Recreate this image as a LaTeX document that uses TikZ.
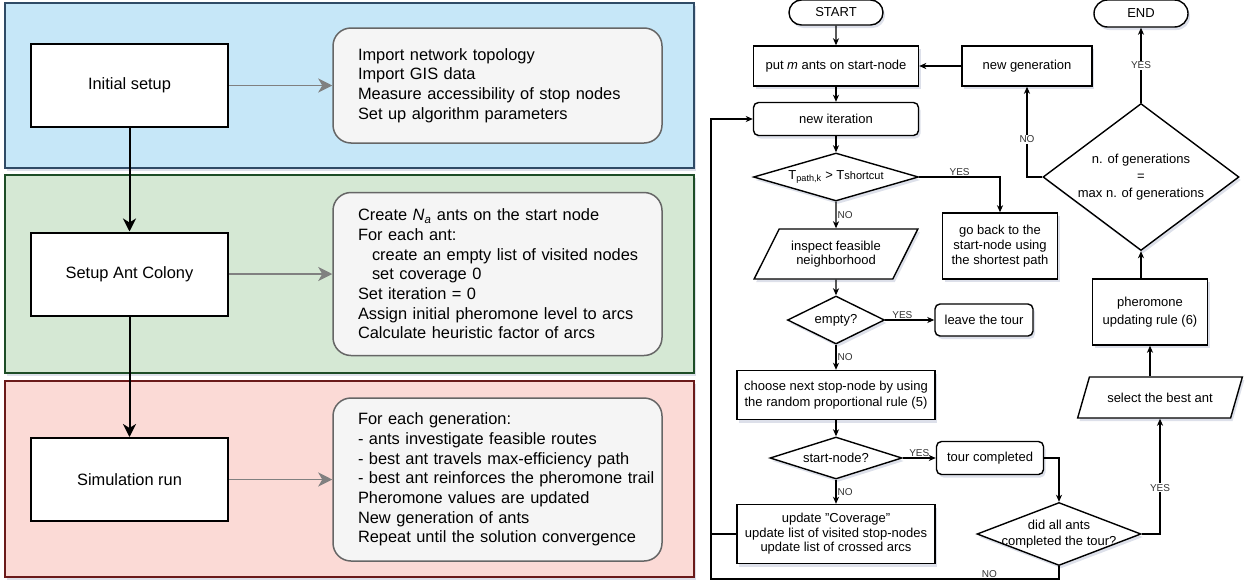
\documentclass[tikz,border=0pt]{standalone}
\usepackage{fontspec}
\setmainfont{Liberation Sans}
\usetikzlibrary{shapes.geometric}
\usetikzlibrary{shapes.misc}
\usetikzlibrary{arrows.meta}
\usetikzlibrary{shadows}
\definecolor{bluefill}{HTML}{C6E7F8}
\definecolor{blueline}{HTML}{2F4B66}
\definecolor{greenfill}{HTML}{D5E8D4}
\definecolor{greenline}{HTML}{1D4D26}
\definecolor{redfill}{HTML}{FBDAD6}
\definecolor{redline}{HTML}{6B1A1A}
\definecolor{notefill}{HTML}{F5F5F5}
\definecolor{noteline}{HTML}{666666}
\definecolor{arrgray}{HTML}{808080}
\definecolor{shadowc}{HTML}{8E9AB8}
\definecolor{lbltext}{HTML}{333333}
\tikzstyle{band}=[line width=1.5pt,drop shadow={shadow xshift=2pt,shadow yshift=-3pt,opacity=0.3,fill=shadowc}]
\tikzstyle{stage}=[draw,fill=white,line width=2pt,minimum width=197pt,minimum height=83pt,font=\fontsize{16.4}{19.7}\selectfont]
\tikzstyle{note}=[draw=noteline,fill=notefill,line width=1.5pt,rounded corners=18pt,minimum width=329pt,text width=279pt,inner xsep=25pt,align=left,font=\fontsize{16.4}{19.7}\selectfont]
\tikzstyle{grayarr}=[draw=arrgray,line width=1.8pt,-{Stealth[length=14pt,width=14pt,inset=4pt]}]
\tikzstyle{blkarr}=[line width=2pt,-{Stealth[length=13pt,width=13pt,inset=4pt]}]
\tikzstyle{fc}=[draw,fill=white,line width=1.4pt,inner sep=2pt,align=center,font=\fontsize{13}{15.5}\selectfont,drop shadow={shadow xshift=2pt,shadow yshift=-3pt,opacity=0.3,fill=shadowc}]
\tikzstyle{term}=[fc,rounded rectangle,minimum width=98pt,minimum height=25pt]
\tikzstyle{proc}=[fc,rectangle]
\tikzstyle{rproc}=[fc,rectangle,rounded corners=5pt]
\tikzstyle{dec}=[fc,diamond,inner sep=0pt]
\tikzstyle{io}=[fc,trapezium,trapezium left angle=56,trapezium right angle=124,trapezium stretches=true]
\tikzstyle{flow}=[line width=1.3pt,-{Stealth[length=7pt,width=6pt,inset=2pt]}]
\tikzstyle{lbl}=[font=\fontsize{10}{12}\selectfont,text=lbltext,inner sep=1pt]

\begin{document}
\begin{tikzpicture}[x=1pt,y=-1pt]
  \useasboundingbox (0,0) rectangle (1253,584);
  \draw [band,fill=bluefill,draw=blueline] (5,3) rectangle (694,168);
  \draw [band,fill=greenfill,draw=greenline] (5,175) rectangle (694,373);
  \draw [band,fill=redfill,draw=redline] (5,381) rectangle (694,577);

  \node [stage] (init) at (129.5,85.5) {Initial setup};
  \node [stage] (colony) [node distance=188.5pt,below of=init] {Setup Ant Colony};
  \node [stage] (simrun) [node distance=205.5pt,below of=colony] {Simulation run};
  \node [note,minimum height=115pt] (initnote) [node distance=368pt,right of=init] {Import network topology\\Import GIS data\\Measure accessibility of stop nodes\\Set up algorithm parameters};
  \node [note,minimum height=163pt] (colonynote) [node distance=368pt,right of=colony] {Create \textit{N}\textsubscript{\textit{a}} ants on the start node\\For each ant:\\\mbox{\hspace*{14pt}create an empty list of visited nodes}\\\hspace*{14pt}set coverage 0\\Set iteration = 0\\Assign initial pheromone level to arcs\\Calculate heuristic factor of arcs};
  \node [note,minimum height=163pt] (simnote) [node distance=368pt,right of=simrun] {For each generation:\\- ants investigate feasible routes\\- best ant travels max-efficiency path\\\mbox{- best ant reinforces the pheromone trail}\\Pheromone values are updated\\New generation of ants\\\mbox{Repeat until the solution convergence}};

  \draw [grayarr] (init) -- (initnote);
  \draw [grayarr] (colony) -- (colonynote);
  \draw [grayarr] (simrun) -- (simnote);
  \draw [blkarr] (init) -- (colony);
  \draw [blkarr] (colony) -- (simrun);

  \node [term] (start) at (836,12.5) {START};
  \node [proc,minimum width=165pt,minimum height=40pt] (putm) [node distance=53.5pt,below of=start] {put \textit{m} ants on start-node};
  \node [rproc,minimum width=165pt,minimum height=33pt] (newiter) [node distance=53pt,below of=putm] {new iteration};
  \node [dec,aspect=3.44,minimum width=165pt,minimum height=48pt] (tpath) [node distance=58pt,below of=newiter] {T\textsubscript{path,k} > T{\fontsize{11}{12}\selectfont shortcut}};
  \node [io,minimum width=164pt,minimum height=50pt,font=\fontsize{13}{14.5}\selectfont] (inspect) [node distance=77pt,below of=tpath] {inspect feasible\\neighborhood};
  \node [dec,aspect=2.02,minimum width=97pt,minimum height=48pt] (empty) [node distance=66pt,below of=inspect] {empty?};
  \node [proc,minimum width=198pt,minimum height=49pt,font=\fontsize{13}{16}\selectfont] (choose) [node distance=75pt,below of=empty] {choose next stop-node by using\\the random proportional rule (5)};
  \node [dec,aspect=3.14,minimum width=132pt,minimum height=42pt] (startnode) [node distance=63pt,below of=choose] {start-node?};
  \node [proc,minimum width=198pt,minimum height=59pt,font=\fontsize{13}{14.5}\selectfont] (update) [node distance=76pt,below of=startnode] {update \symbol{34}Coverage\symbol{34}\\update list of visited stop-nodes\\update list of crossed arcs};
  \node [rproc,minimum width=98pt,minimum height=32pt] (leave) [node distance=148pt,right of=empty] {leave the tour};
  \node [rproc,minimum width=107pt,minimum height=33pt] (tour) [node distance=154pt,right of=startnode] {tour completed};
  \node [dec,aspect=2.6,inner sep=-5pt,minimum width=164pt,minimum height=63pt] (didall) [node distance=223pt,right of=update] {did all ants\\completed the tour?};
  \node [proc,minimum width=115pt,minimum height=66pt,font=\fontsize{13}{15}\selectfont] (goback) at (1000,246) {go back to the\\start-node using\\the shortest path};
  \node [proc,minimum width=130pt,minimum height=40pt] (newgen) [node distance=191pt,right of=putm] {new generation};
  \node [dec,aspect=1.33,minimum width=196pt,minimum height=147pt,font=\fontsize{13}{17}\selectfont] (bigdec) at (1141,177) {n. of generations\\=\\max n. of generations};
  \node [term,minimum height=27pt] (end) [node distance=163.5pt,above of=bigdec] {END};
  \node [proc,minimum width=115pt,minimum height=66pt,font=\fontsize{13}{18}\selectfont] (phero) at (1150,312) {pheromone\\updating rule (6)};
  \node [io,minimum width=165pt,minimum height=41pt] (sba) at (1160,397.5) {select the best ant};
  \coordinate (loopbl) at (711,579);

  \draw [flow] (start) -- (putm);
  \draw [flow] (putm) -- (newiter);
  \draw [flow] (newiter) -- (tpath);
  \draw [flow] (tpath.east) -| node[lbl,pos=0.25,above]{YES} (goback.north);
  \draw [flow] (tpath.south) -- node[lbl,right]{NO} (inspect.north);
  \draw [flow] (inspect.south) -- (empty.north);
  \draw [flow] (empty.east) -- node[lbl,pos=0.35,above]{YES} (leave.west);
  \draw [flow] (empty.south) -- node[lbl,right]{NO} (choose.north);
  \draw [flow] (choose.south) -- (startnode.north);
  \draw [flow] (startnode.east) -- node[lbl,above]{YES} (tour.west);
  \draw [flow] (startnode.south) -- node[lbl,right]{NO} (update.north);
  \draw [flow] (tour.east) -| (didall.north);
  \draw [flow] (didall.east) -| node[lbl,fill=white,pos=0.7]{YES} (sba.south);
  \draw [flow] (sba.north -| phero.south) -- (phero.south);
  \draw [flow] (phero.north -| bigdec.south) -- (bigdec.south);
  \draw [flow] (bigdec.north) -- node[lbl,fill=white]{YES} (end.south);
  \draw [flow] (bigdec.west) -| node[lbl,fill=white,pos=0.71]{NO} (newgen.south);
  \draw [flow] (newgen) -- (putm);
  \draw [flow] (didall.south) |- node[lbl,pos=0.6,above]{NO} (loopbl) |- (newiter.west);
  \draw [line width=1.3pt] (update.west) -- (update.west -| loopbl);
\end{tikzpicture}
\end{document}
